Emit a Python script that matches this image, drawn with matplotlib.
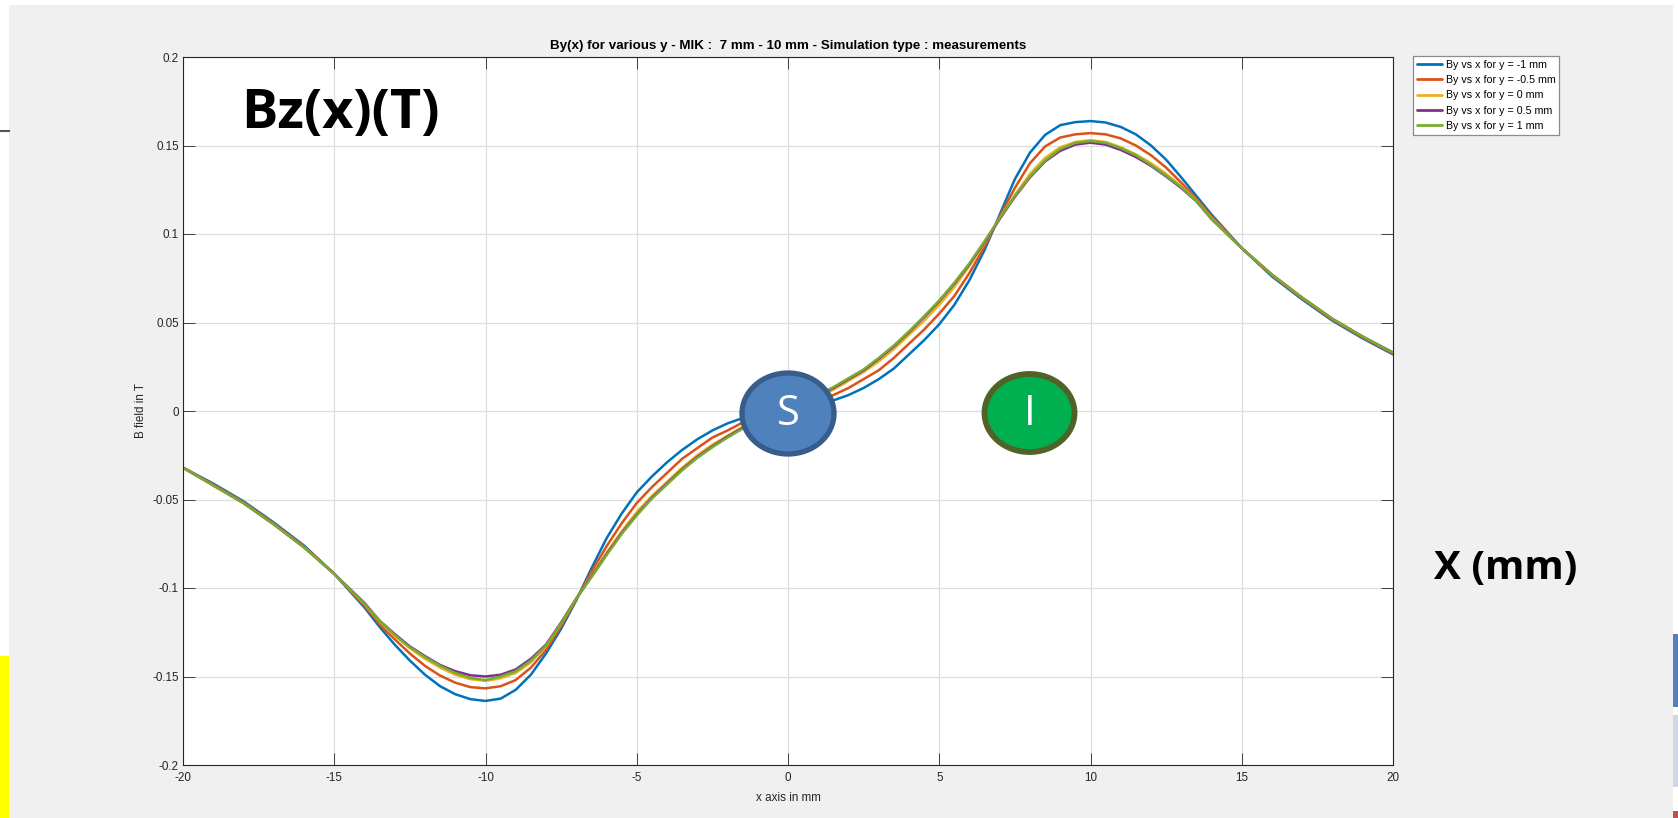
import matplotlib
matplotlib.use("Agg")
import matplotlib.pyplot as plt
from matplotlib.patches import Rectangle, Ellipse
from matplotlib.lines import Line2D

# ---- data: By(x) in tesla for several transverse offsets y ----
x_mm = [-20, -19, -18, -17, -16, -15, -14,
        -13.5, -13, -12.5, -12, -11.5, -11, -10.5, -10, -9.5, -9, -8.5, -8, -7.5, -7,
        -6.5, -6, -5.5, -5, -4.5, -4, -3.5, -3, -2.5, -2, -1.5, -1, -0.5,
        0,
        0.5, 1, 1.5, 2, 2.5, 3, 3.5, 4, 4.5, 5, 5.5, 6, 6.5, 7,
        7.5, 8, 8.5, 9, 9.5, 10, 10.5, 11, 11.5, 12, 12.5, 13, 13.5,
        14, 15, 16, 17, 18, 19, 20]

by_ym1 = [-0.032, -0.041, -0.051, -0.063, -0.076, -0.092, -0.111,
          -0.122, -0.132, -0.141, -0.149, -0.1555, -0.1600, -0.1628, -0.1638, -0.1625, -0.1575, -0.149, -0.137, -0.123, -0.107,
          -0.089, -0.072, -0.058, -0.046, -0.037, -0.029, -0.022, -0.016, -0.011, -0.007, -0.004, -0.002, 0.000,
          0.001,
          0.002, 0.004, 0.006, 0.009, 0.013, 0.018, 0.024, 0.032, 0.040, 0.049, 0.060, 0.074, 0.091, 0.111,
          0.131, 0.146, 0.156, 0.1615, 0.1632, 0.1638, 0.1630, 0.1605, 0.1563, 0.150, 0.142, 0.132, 0.1215,
          0.111, 0.092, 0.076, 0.063, 0.051, 0.041, 0.032]

by_ym05 = [-0.032, -0.0415, -0.0515, -0.0635, -0.0765, -0.092, -0.110,
           -0.1205, -0.129, -0.137, -0.144, -0.1495, -0.1535, -0.156, -0.1567, -0.1555, -0.152, -0.145, -0.135, -0.1215, -0.1065,
           -0.091, -0.0765, -0.0635, -0.052, -0.043, -0.035, -0.027, -0.021, -0.015, -0.011, -0.0065, -0.0035, -0.0005,
           0.0015,
           0.0035, 0.006, 0.009, 0.013, 0.018, 0.023, 0.030, 0.038, 0.046, 0.055, 0.065, 0.078, 0.093, 0.110,
           0.126, 0.140, 0.1495, 0.1545, 0.1563, 0.157, 0.1563, 0.154, 0.150, 0.1445, 0.1375, 0.129, 0.120,
           0.110, 0.092, 0.0765, 0.0635, 0.0515, 0.0415, 0.0325]

by_y0 = [-0.032, -0.042, -0.052, -0.064, -0.077, -0.092, -0.109,
         -0.119, -0.127, -0.134, -0.140, -0.145, -0.149, -0.1515, -0.1525, -0.151, -0.148, -0.142, -0.133, -0.120, -0.106,
         -0.093, -0.080, -0.068, -0.057, -0.048, -0.040, -0.032, -0.025, -0.019, -0.014, -0.009, -0.005, -0.001,
         0.002,
         0.005, 0.008, 0.012, 0.017, 0.022, 0.028, 0.035, 0.043, 0.051, 0.060, 0.070, 0.082, 0.095, 0.109,
         0.122, 0.134, 0.143, 0.149, 0.152, 0.153, 0.152, 0.149, 0.145, 0.140, 0.134, 0.127, 0.119,
         0.109, 0.092, 0.077, 0.064, 0.052, 0.042, 0.033]

by_yp05 = [-0.032, -0.042, -0.052, -0.064, -0.077, -0.092, -0.1085,
           -0.1185, -0.126, -0.133, -0.1385, -0.1435, -0.147, -0.1493, -0.150, -0.149, -0.146, -0.140, -0.132, -0.1195, -0.106,
           -0.0935, -0.081, -0.069, -0.0585, -0.049, -0.041, -0.033, -0.026, -0.020, -0.0145, -0.0095, -0.0055, -0.0015,
           0.0022,
           0.0055, 0.0088, 0.013, 0.018, 0.023, 0.0295, 0.0365, 0.0445, 0.053, 0.062, 0.072, 0.083, 0.0955, 0.1085,
           0.121, 0.132, 0.141, 0.147, 0.1505, 0.1516, 0.1505, 0.1475, 0.1435, 0.1385, 0.1325, 0.126, 0.1185,
           0.1085, 0.092, 0.077, 0.064, 0.052, 0.042, 0.033]

by_yp1 = [-0.032, -0.042, -0.052, -0.064, -0.077, -0.092, -0.109,
          -0.1185, -0.1265, -0.1335, -0.139, -0.144, -0.148, -0.1508, -0.152, -0.150, -0.147, -0.141, -0.1325, -0.120, -0.106,
          -0.094, -0.0815, -0.0695, -0.059, -0.0495, -0.0415, -0.0335, -0.0265, -0.0205, -0.015, -0.010, -0.006, -0.002,
          0.0025,
          0.006, 0.0092, 0.0135, 0.0185, 0.0235, 0.030, 0.037, 0.045, 0.0535, 0.0625, 0.0725, 0.0835, 0.096, 0.109,
          0.1215, 0.1325, 0.1415, 0.148, 0.1515, 0.1525, 0.1515, 0.1485, 0.1445, 0.139, 0.133, 0.1265, 0.1185,
          0.1085, 0.092, 0.077, 0.064, 0.052, 0.042, 0.033]

series_labels = ["By vs x for y = -1 mm", "By vs x for y = -0.5 mm", "By vs x for y = 0 mm",
                 "By vs x for y = 0.5 mm", "By vs x for y = 1 mm"]
series_values = [by_ym1, by_ym05, by_y0, by_yp05, by_yp1]
series_colors = ["#0072BD", "#D95319", "#EDB120", "#7E2F8E", "#77AC30"]

x_ticks = [-20, -15, -10, -5, 0, 5, 10, 15, 20]
y_ticks = [-0.2, -0.15, -0.1, -0.05, 0, 0.05, 0.1, 0.15, 0.2]
y_tick_labels = ["-0.2", "-0.15", "-0.1", "-0.05", "0", "0.05", "0.1", "0.15", "0.2"]

# ---- figure ----
W, H = 1678, 818
fig = plt.figure(figsize=(W / 100, H / 100), dpi=100)
fig.patch.set_facecolor("white")


def fx(px):
    return px / W


def fy(py):
    return 1 - py / H


# grey window background and slide-edge decorations
fig.add_artist(Rectangle((fx(9), 0), fx(1673) - fx(9), fy(5), transform=fig.transFigure,
                         facecolor="#f0f0f0", edgecolor="none", zorder=-10))
fig.add_artist(Rectangle((0, 0), fx(9), fy(656), transform=fig.transFigure,
                         facecolor="#ffff00", edgecolor="none", zorder=-9))
fig.add_artist(Line2D([0, fx(9)], [fy(131), fy(131)], transform=fig.transFigure,
                      color="#555555", linewidth=1.5))
fig.add_artist(Rectangle((fx(1673), fy(707)), fx(5), fy(634) - fy(707), transform=fig.transFigure,
                         facecolor="#4F81BD", edgecolor="none", zorder=-9))
fig.add_artist(Rectangle((fx(1673), fy(787)), fx(5), fy(715) - fy(787), transform=fig.transFigure,
                         facecolor="#D0D8E8", edgecolor="none", zorder=-9))
fig.add_artist(Rectangle((fx(1673), 0), fx(5), fy(811), transform=fig.transFigure,
                         facecolor="#C0504D", edgecolor="none", zorder=-9))

ax = fig.add_axes([fx(183), fy(765), fx(1393) - fx(183), fy(57) - fy(765)])
ax.set_facecolor("white")

for vals, lab, col in zip(series_values, series_labels, series_colors):
    ax.plot(x_mm, vals, color=col, linewidth=1.8, label=lab,
            solid_joinstyle="round", solid_capstyle="round")

ax.set_xlim(-20, 20)
ax.set_ylim(-0.2, 0.2)
ax.set_xticks(x_ticks)
ax.set_xticklabels([str(t) for t in x_ticks])
ax.set_yticks(y_ticks)
ax.set_yticklabels(y_tick_labels)
ax.grid(True, color="#dedede", linewidth=0.9)
ax.set_axisbelow(True)

axis_col = "#262626"
for s in ax.spines.values():
    s.set_color(axis_col)
    s.set_linewidth(0.8)
ax.tick_params(direction="in", length=8.6, width=0.6, top=True, right=True,
               colors=axis_col, labelsize=8.4, labelfontfamily="Liberation Sans")
ax.tick_params(axis="x", pad=5)
ax.tick_params(axis="y", pad=3)

ax.set_title("By(x) for various y - MIK :  7 mm - 10 mm - Simulation type : measurements",
             fontsize=9.6, fontweight="bold", family="Liberation Sans", color="black", pad=6)
ax.set_xlabel("x axis in mm", fontsize=8.4, family="Liberation Sans", color=axis_col, va="center")
ax.xaxis.set_label_coords(0.5, (765 - 798) / 708)
ax.set_ylabel("B field in T", fontsize=8.4, family="Liberation Sans", color=axis_col, va="center")
ax.yaxis.set_label_coords((141 - 183) / 1210, 0.5)

leg = ax.legend(loc="upper left", bbox_to_anchor=(fx(1413), fy(56)), bbox_transform=fig.transFigure,
                prop={"family": "Liberation Sans", "size": 7.7}, frameon=True, fancybox=False,
                handlelength=2.4, handletextpad=0.3, labelspacing=0.5, borderpad=0.35,
                borderaxespad=0)
leg.get_frame().set_edgecolor("#8c8c8c")
leg.get_frame().set_linewidth(0.9)
leg.get_frame().set_facecolor("white")
leg.get_frame().set_alpha(1)
for line in leg.get_lines():
    line.set_linewidth(2.0)

# annotation overlays
fig.text(fx(241), fy(128), "Bz(x)(T)", fontsize=39, fontweight="bold", family="Open Sans",
         ha="left", va="baseline", color="black")
fig.text(fx(1434), fy(579), "X (mm)", fontsize=29, fontweight="bold", family="Open Sans",
         ha="left", va="baseline", color="black")

s_circle = Ellipse((fx(788), fy(413.5)), fx(92), 81 / H, transform=fig.transFigure,
                   facecolor="#4F81BD", edgecolor="#385D8A", linewidth=3.8, zorder=5)
fig.add_artist(s_circle)
fig.text(fx(788), fy(414), "S", fontsize=30, family="Open Sans", color="white",
         ha="center", va="center", zorder=6)

i_circle = Ellipse((fx(1029.5), fy(413)), fx(90), 78 / H, transform=fig.transFigure,
                   facecolor="#00B050", edgecolor="#4F6228", linewidth=4.2, zorder=5)
fig.add_artist(i_circle)
fig.text(fx(1029.5), fy(414), "I", fontsize=30, family="Open Sans", color="white",
         ha="center", va="center", zorder=6)

fig.savefig("out.png", dpi=100, facecolor=fig.get_facecolor())
